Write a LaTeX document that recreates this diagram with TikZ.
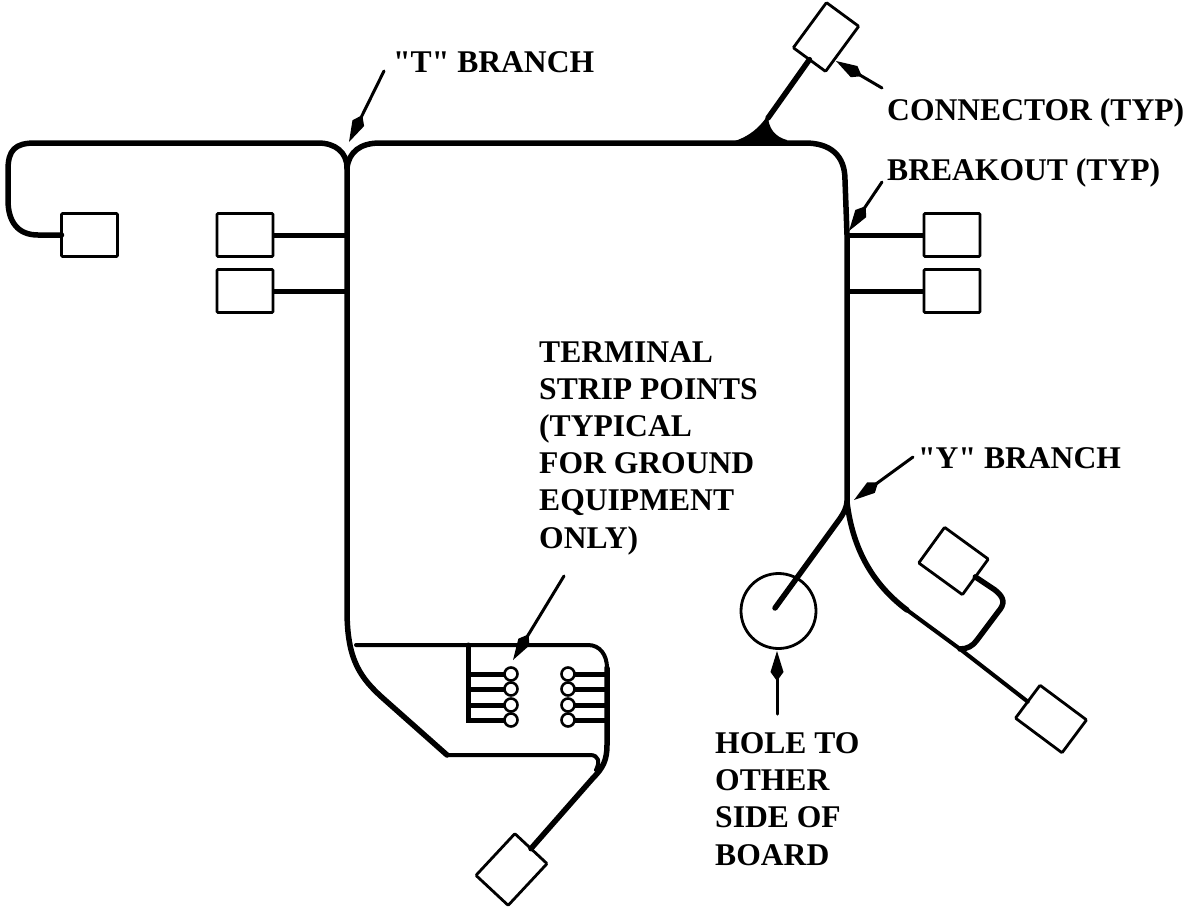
\documentclass[tikz,border=0pt]{standalone}
\usepackage{fontspec}
\newfontfamily\lblfont{Liberation Serif}
\usetikzlibrary{arrows.meta}
\tikzset{
  cbox/.style={draw,line width=2.8pt,rounded corners=1pt,fill=white,minimum width=56pt,minimum height=43pt,inner sep=0pt,outer sep=0pt},
  wire/.style={line width=5.5pt,line cap=round,line join=round},
  lean/.style={line width=4pt,line cap=round,line join=round},
  stub/.style={line width=5pt},
  pad/.style={circle,draw,line width=2.6pt,fill=white,minimum size=13pt,inner sep=0pt,outer sep=0pt},
  call/.style={line width=3pt,line cap=round,-{Kite[length=30pt,width=13pt,inset=9pt]}},
  lbl/.style={font=\lblfont\fontsize{31.6}{36}\selectfont\bfseries,inner sep=0pt,align=left,anchor=base west}
}
\begin{document}
\begin{tikzpicture}[x=1pt,y=-1pt]
  \useasboundingbox (0,0) rectangle (1191,910);
  % connectors
  \node[cbox] (boxA) at (89.5,235) {};
  \node[cbox] (boxB) at (245,235) {};
  \node[cbox] (boxC) at (245,291) {};
  \node[cbox] (boxD) at (952,235) {};
  \node[cbox] (boxE) at (952,291) {};
  \node[cbox,rotate=53.7,minimum height=40pt] (boxF) at (826,37) {};
  \node[cbox,rotate=-36,minimum width=54pt,minimum height=44pt] (boxG) at (953.5,561) {};
  \node[cbox,rotate=-36.7,minimum width=58pt,minimum height=41pt] (boxH) at (1051,719) {};
  \node[cbox,rotate=47,minimum width=57pt,minimum height=44pt] (boxJ) at (511.5,869.5) {};
  \node[circle,draw,line width=2.8pt,minimum size=75pt,inner sep=0pt] (hole) at (778.5,611) {};
  % junction points on the main run
  \coordinate (tee) at (347,168);
  \coordinate (wye) at (847,502);
  \coordinate (jB) at (347,235);
  \coordinate (jC) at (347,291);
  \coordinate (jD) at (847,235);
  \coordinate (jE) at (847,291);
  \coordinate (jF) at (768,118);
  \coordinate (jG) at (960,649);
  \coordinate (endH) at (775,608);
  % main run
  \draw[wire] (boxA.west) -- (38,235) .. controls (18,235) and (8,222) .. (8,200)
    -- (8,170) .. controls (8,150) and (15,143) .. (35,143) -- (318,143)
    .. controls (335,143) and (347,152) .. (tee);
  \draw[wire] (tee) .. controls (349,152) and (360,143) .. (380,143) -- (805,143)
    .. controls (830,143) and (845,155) .. (845,180) -- (jD) -- (wye);
  \draw[wire] (tee) -- (347,610) .. controls (347,660) and (360,678) .. (385,700) -- (447,755);
  \draw[lean] (447,755) -- (590,755) .. controls (599,755) and (600,762) .. (596,770);
  \draw[wire] (wye) .. controls (853,552) and (875,586) .. (907,610);
  \draw[lean] (907,610) -- (jG) -- (boxH.west);
  \draw[wire] (wye) .. controls (846,510) and (842,516) .. (836,524) -- (endH);
  \draw[wire] (boxG.east) -- (995,590) .. controls (1005,598) and (1005,604) .. (998,612)
    -- (977,640) .. controls (973,646) and (967,649) .. (jG);
  \draw[wire] (jF) -- (boxF.west);
  \fill (723,144) .. controls (745,140) and (758,130) .. (768,115)
    .. controls (768,128) and (775,137) .. (787,140) -- (787,145) -- cycle;
  % breakouts
  \draw[stub] (boxB.east) -- (jB);
  \draw[stub] (boxC.east) -- (jC);
  \draw[stub] (boxD.west) -- (jD);
  \draw[stub] (boxE.west) -- (jE);
  % terminal strip
  \draw[lean] (356,645) -- (588,645) .. controls (600,645) and (607,655) .. (607,668);
  \draw[wire] (607,668) -- (607,745) .. controls (607,760) and (603,768) .. (593,778) -- (boxJ.east);
  \draw[stub,line cap=round] (468,645) -- (468,720) -- (505,720);
  \foreach \n/\yy in {1/674,2/689,3/705,4/720}{
    \node[pad] (padL\n) at (511,\yy) {};
    \node[pad] (padR\n) at (568,\yy) {};
    \draw[stub] (468,\yy) -- (padL\n.west);
    \draw[stub] (padR\n.east) -- (607,\yy);
  }
  % labels and their arrows
  \node[lbl] (lblT) at (393,72) {"T" BRANCH};
  \node[lbl] (lblC) at (887,120) {CONNECTOR (TYP)};
  \node[lbl] (lblB) at (887,180) {BREAKOUT (TYP)};
  \node[lbl] (lblY) at (918,468) {"Y" BRANCH};
  \node[lbl,anchor=north west] (lblS) at (539,341) {TERMINAL\\[1.2pt]STRIP POINTS\\[1.2pt](TYPICAL\\[1.2pt]FOR GROUND\\[1.2pt]EQUIPMENT\\[1.2pt]ONLY)};
  \node[lbl,anchor=north west] (lblH) at (715,732) {HOLE TO\\[1.3pt]OTHER\\[1.3pt]SIDE OF\\[1.3pt]BOARD};
  \coordinate (tailT) at (384,71);
  \coordinate (tailC) at (882,88);
  \coordinate (tailB) at (882,182);
  \coordinate (tailY) at (913,457);
  \coordinate (tailS) at (564,576);
  \coordinate (tailH) at (777,714);
  \draw[call] (tailT) -- (349,142);
  \draw[call] (tailC) -- (836,61);
  \draw[call] (tailB) -- (849,231);
  \draw[call] (tailY) -- (854,500);
  \draw[call] (tailS) -- (513,660);
  \draw[call] (tailH) -- (777,651);
\end{tikzpicture}
\end{document}
